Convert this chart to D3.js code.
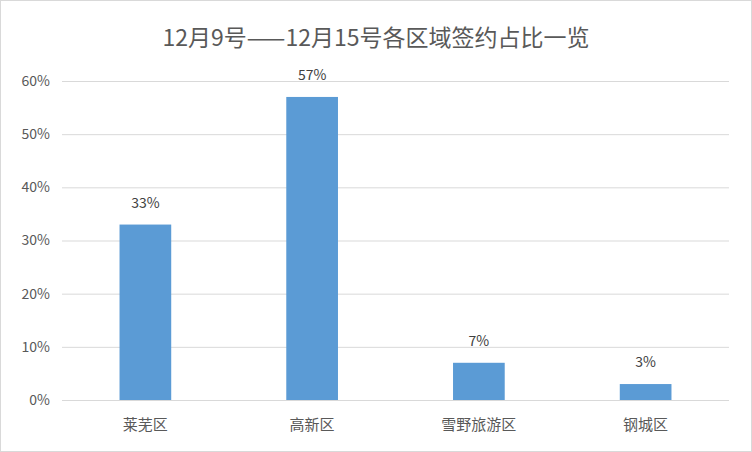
<!DOCTYPE html>
<html><head><meta charset="utf-8">
<script src="https://cdn.jsdelivr.net/npm/d3@7"></script>
<style>body{margin:0;background:#fff}svg{display:block}</style>
</head><body>
<svg id="c" width="752" height="452"></svg>
<script>
const title = "12月9号——12月15号各区域签约占比一览";
const categories = ["莱芜区","高新区","雪野旅游区","钢城区"];
const values = [0.33,0.57,0.07,0.03];
const ticks = [0,0.1,0.2,0.3,0.4,0.5,0.6];

const svg = d3.select("#c");
const font = "'Noto Sans CJK SC','Microsoft YaHei',sans-serif";
svg.append("rect").attr("x",0.5).attr("y",0.5).attr("width",751).attr("height",451)
  .attr("fill","#fff").attr("stroke","#d9d9d9");
svg.append("text").attr("x",376).attr("y",46).attr("text-anchor","middle")
  .attr("font-family",font).attr("font-size",23).attr("fill","#595959").text(title);

const x = d3.scaleBand().domain(categories).range([62,729]).paddingInner(0.69).paddingOuter(0.345);
const y = d3.scaleLinear().domain([0,0.6]).range([400,81]);

const g = svg.append("g").attr("transform","translate(62,0)");
g.call(d3.axisLeft(y).tickValues(ticks).tickFormat(d3.format(".0%")).tickSize(-667).tickPadding(12))
  .call(a=>a.select(".domain").remove())
  .call(a=>a.selectAll("line").attr("stroke","#d9d9d9"))
  .call(a=>a.selectAll("text").attr("font-family",font).attr("font-size",14).attr("fill","#595959"));

svg.selectAll(".bar").data(values).join("rect")
  .attr("x",(d,i)=>x(categories[i])).attr("width",x.bandwidth())
  .attr("y",d=>y(d)).attr("height",d=>400-y(d)).attr("fill","#5b9bd5");

svg.selectAll(".lbl").data(values).join("text")
  .attr("x",(d,i)=>x(categories[i])+x.bandwidth()/2).attr("y",d=>y(d)-17)
  .attr("text-anchor","middle").attr("font-family",font).attr("font-size",14).attr("fill","#404040")
  .text(d=>d3.format(".0%")(d));

svg.append("line").attr("x1",62).attr("x2",729).attr("y1",400.5).attr("y2",400.5).attr("stroke","#d9d9d9");
svg.selectAll(".cat").data(categories).join("text")
  .attr("x",d=>x(d)+x.bandwidth()/2).attr("y",430).attr("text-anchor","middle")
  .attr("font-family",font).attr("font-size",15).attr("fill","#595959").text(d=>d);
</script>
</body></html>
